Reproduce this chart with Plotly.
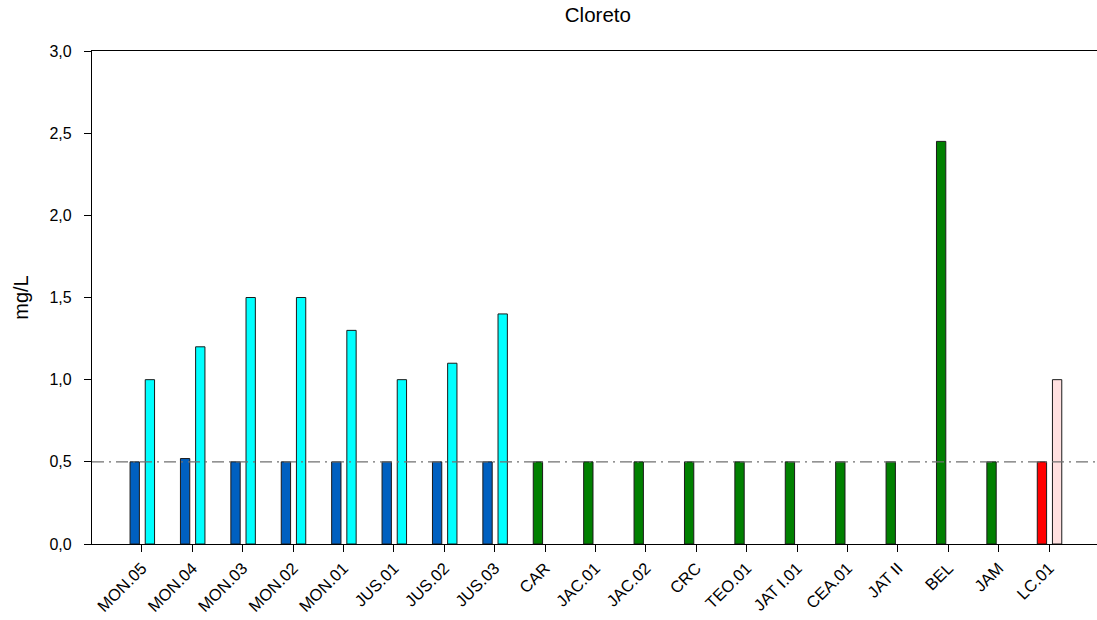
import plotly.graph_objects as go

# Sampling sites
sites = ["MON.05", "MON.04", "MON.03", "MON.02", "MON.01", "JUS.01", "JUS.02",
         "JUS.03", "CAR", "JAC.01", "JAC.02", "CRC", "TEO.01", "JAT I.01",
         "CEA.01", "JAT II", "BEL", "JAM", "LC.01"]

# Chloride (mg/L), first campaign
chloride_1 = [0.5, 0.52, 0.5, 0.5, 0.5, 0.5, 0.5, 0.5, 0.5, 0.5, 0.5, 0.5,
              0.5, 0.5, 0.5, 0.5, 2.45, 0.5, 0.5]
# Chloride (mg/L), second campaign (only some sites)
chloride_2 = [1.0, 1.2, 1.5, 1.5, 1.3, 1.0, 1.1, 1.4, None, None, None, None,
              None, None, None, None, None, None, 1.0]

# Reference / detection limit
limit = 0.5

BLUE, CYAN, GREEN, RED, PINK = "#0060C0", "#00FFFF", "#008000", "#FF0000", "#FFE0E0"
colors_1 = [BLUE] * 8 + [GREEN] * 10 + [RED]
colors_2 = [CYAN] * 8 + [CYAN] * 10 + [PINK]

fig = go.Figure()
fig.add_trace(go.Bar(
    x=sites, y=chloride_1, width=0.185, offset=-0.235,
    marker=dict(color=colors_1, line=dict(color="#1a1a1a", width=1)),
    showlegend=False,
))
fig.add_trace(go.Bar(
    x=sites, y=chloride_2, width=0.185, offset=0.066,
    marker=dict(color=colors_2, line=dict(color="#1a1a1a", width=1)),
    showlegend=False,
))

# Dashed limit line across the plot, drawn above the bars
fig.add_shape(type="line", xref="paper", yref="y", x0=0, x1=1, y0=limit, y1=limit,
              line=dict(color="#707070", width=1.3, dash="12px,5px,2px,5px"),
              layer="above")

fig.update_layout(
    width=1097, height=620,
    margin=dict(l=92, r=0, t=51, b=76),
    paper_bgcolor="white", plot_bgcolor="white",
    barmode="overlay",
    separators=",.",
    font=dict(family="Liberation Sans, Arial, sans-serif", size=16, color="black"),
    title=dict(text="Cloreto", x=0.545, xanchor="center", y=0.976, yanchor="middle",
               font=dict(size=20.5)),
)
fig.update_xaxes(
    type="category", range=[-0.99, 18.95],
    showline=True, linecolor="black", linewidth=1.3, mirror=True,
    ticks="outside", ticklen=7, tickcolor="black", tickwidth=1,
    tickangle=-45, tickfont=dict(size=16.5), showgrid=False,
)
fig.update_yaxes(
    range=[0, 3.0], dtick=0.5, tickformat=".1f",
    showline=True, linecolor="black", linewidth=1.3, mirror=False,
    ticks="outside", ticklen=7, tickcolor="black", tickwidth=1,
    ticklabelstandoff=9,
    showgrid=False, zeroline=False, tickfont=dict(size=16),
    title=dict(text="mg/L", font=dict(size=20), standoff=15),
)

fig.write_html("out.html")
